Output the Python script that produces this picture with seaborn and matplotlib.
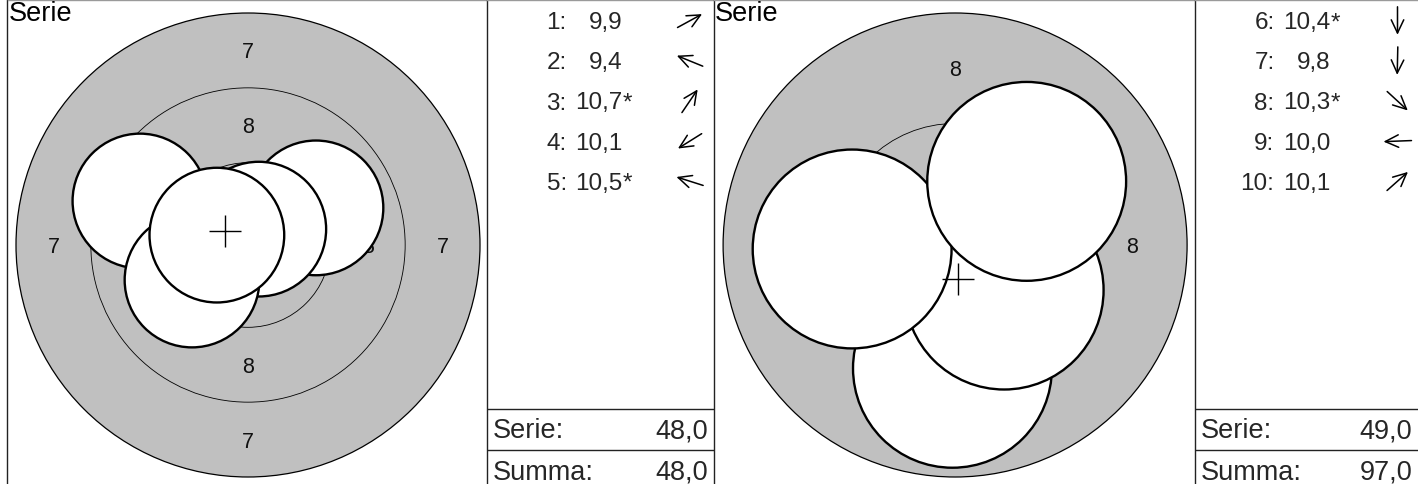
import numpy as np
import pandas as pd
import matplotlib
matplotlib.use("Agg")
import matplotlib.pyplot as plt
from matplotlib.patches import Circle
import seaborn as sns

sns.set_theme(style="white")
plt.rcParams["font.family"] = ["Liberation Sans", "DejaVu Sans"]

# ---------------- data ----------------
series_title = "Serie"
shot_numbers_1 = [1, 2, 3, 4, 5]
shot_x_1 = [2.27, -3.61, 0.36, -1.87, -1.04]      # mm, right positive
shot_y_1 = [1.24, 1.47, 0.53, -1.17, 0.33]        # mm, up positive
scores_1 = [9.9, 9.4, 10.7, 10.1, 10.5]
inner_1 = [False, False, True, False, True]

shot_numbers_2 = [6, 7, 8, 9, 10]
shot_x_2 = [0.0, -0.06, 1.11, -2.33, 1.62]
shot_y_2 = [-1.38, -2.79, -1.02, -0.09, 1.44]
scores_2 = [10.4, 9.8, 10.3, 10.0, 10.1]
inner_2 = [True, False, True, False, False]

outer_ring = [7, 8]            # outermost ring shown on each target
series_total = [48.0, 49.0]
running_total = [48.0, 97.0]
total_labels = ["Serie:", "Summa:"]

# target geometry (10 m air rifle, mm)
ring_values = [7, 8, 9, 10]
SHOT_R = 2.25
def ring_radius(k):
    return 0.25 + (10 - k) * 2.5

def fmt(v):
    return f"{v:.1f}".replace(".", ",")

W, H = 1418, 484
fig = plt.figure(figsize=(W / 100, H / 100), dpi=100)
fig.patch.set_facecolor("white")

GRAY = "#c0c0c0"
LINE = "#222222"
ROW_FS = 17.5
TOT_FS = 19.5

panels = [
    dict(x0=7.5, x1=714.0, tx=487.3, nums=shot_numbers_1, xs=shot_x_1, ys=shot_y_1,
         sc=scores_1, inn=inner_1, outer=outer_ring[0], tot=series_total[0], run=running_total[0]),
    dict(x0=714.0, x1=1418.0, tx=1195.0, nums=shot_numbers_2, xs=shot_x_2, ys=shot_y_2,
         sc=scores_2, inn=inner_2, outer=outer_ring[1], tot=series_total[1], run=running_total[1]),
]

for p in panels:
    # ---- target axes ----
    tw = p["tx"] - p["x0"]
    ax = fig.add_axes([p["x0"] / W, 0, tw / W, 1])
    R = ring_radius(p["outer"])
    ppm = 232.0 / R                     # pixels per mm
    cx_px = tw / 2.0 + 0.6
    cy_px_bottom = 239.0
    ax.set_xlim(-cx_px / ppm, (tw - cx_px) / ppm)
    ax.set_ylim(-cy_px_bottom / ppm, (H - cy_px_bottom) / ppm)
    ax.set_xticks([]); ax.set_yticks([])
    for s in ["right", "bottom"]:
        ax.spines[s].set_visible(False)
    ax.spines["left"].set_color(LINE); ax.spines["left"].set_linewidth(1.0)
    ax.spines["top"].set_color("#9a9a9a"); ax.spines["top"].set_linewidth(1.0)
    ax.set_facecolor("white")

    # rings
    ax.add_patch(Circle((0, 0), R, facecolor=GRAY, edgecolor="black", lw=0.9, zorder=1))
    for k in ring_values:
        if k <= p["outer"] or k == 10:
            continue
        ax.add_patch(Circle((0, 0), ring_radius(k), facecolor="none",
                            edgecolor="black", lw=0.6, zorder=1.5))
    # ring labels
    for k in ring_values:
        if k < p["outer"] or k >= 10:
            continue
        rm = (ring_radius(k) + ring_radius(k + 1)) / 2
        for (ux, uy) in [(0, 1), (0, -1), (-1, 0), (1, 0)]:
            ax.text(ux * rm, uy * rm, str(k), ha="center", va="center_baseline",
                    fontsize=15.5, color="#111111", zorder=2)

    # shots in order
    for i, (x, y) in enumerate(zip(p["xs"], p["ys"])):
        ax.add_patch(Circle((x, y), SHOT_R, facecolor="white", edgecolor="black",
                            lw=1.7, zorder=3 + i * 0.01))

    # mean point of impact
    mpi = pd.DataFrame({"x": [np.mean(p["xs"])], "y": [np.mean(p["ys"])]})
    sns.scatterplot(data=mpi, x="x", y="y", marker="+", s=500, color="black",
                    linewidth=1.0, ax=ax, zorder=10, legend=False)
    ax.set_xlabel(""); ax.set_ylabel("")

    ax.text(0.002, 1 - 20.7 / H, series_title, transform=ax.transAxes,
            ha="left", va="baseline", fontsize=TOT_FS, color="black")

    # ---- table axes ----
    tw2 = p["x1"] - p["tx"]
    at = fig.add_axes([p["tx"] / W, 0, tw2 / W, 1])
    at.set_xlim(0, tw2); at.set_ylim(H, 0)
    at.set_xticks([]); at.set_yticks([])
    at.set_facecolor("white")
    for s in ["right", "bottom"]:
        at.spines[s].set_visible(False)
    at.spines["left"].set_color(LINE); at.spines["left"].set_linewidth(1.0)
    at.spines["top"].set_color("#9a9a9a"); at.spines["top"].set_linewidth(1.0)
    at.axhline(409, color=LINE, lw=1.0)
    at.axhline(450, color=LINE, lw=1.0)

    for i, (n, v, star, x, y) in enumerate(zip(p["nums"], p["sc"], p["inn"], p["xs"], p["ys"])):
        base = 29.3 + 40.1 * i
        at.text(79.5, base, f"{n}:", ha="right", va="baseline", fontsize=ROW_FS)
        at.text(135.5, base, fmt(v), ha="right", va="baseline", fontsize=ROW_FS)
        if star:
            at.text(135.5, base, "*", ha="left", va="baseline", fontsize=ROW_FS)
        ang = np.arctan2(y, x)
        L = 28.0
        acx, acy = 202.5, base - 8.5
        dx, dy = np.cos(ang) * L / 2, -np.sin(ang) * L / 2
        at.annotate("", xy=(acx + dx, acy + dy), xytext=(acx - dx, acy - dy),
                    arrowprops=dict(arrowstyle="->,head_length=0.95,head_width=0.45",
                                    lw=1.1, color="black", shrinkA=0, shrinkB=0,
                                    mutation_scale=10))

    for lab, val, base in zip(total_labels, [p["tot"], p["run"]], [438.5, 479.5]):
        at.text(5.5, base, lab, ha="left", va="baseline", fontsize=TOT_FS)
        at.text(tw2 - 5.5, base, fmt(val), ha="right", va="baseline", fontsize=TOT_FS)

fig.savefig("out.png", dpi=100, facecolor="white")
